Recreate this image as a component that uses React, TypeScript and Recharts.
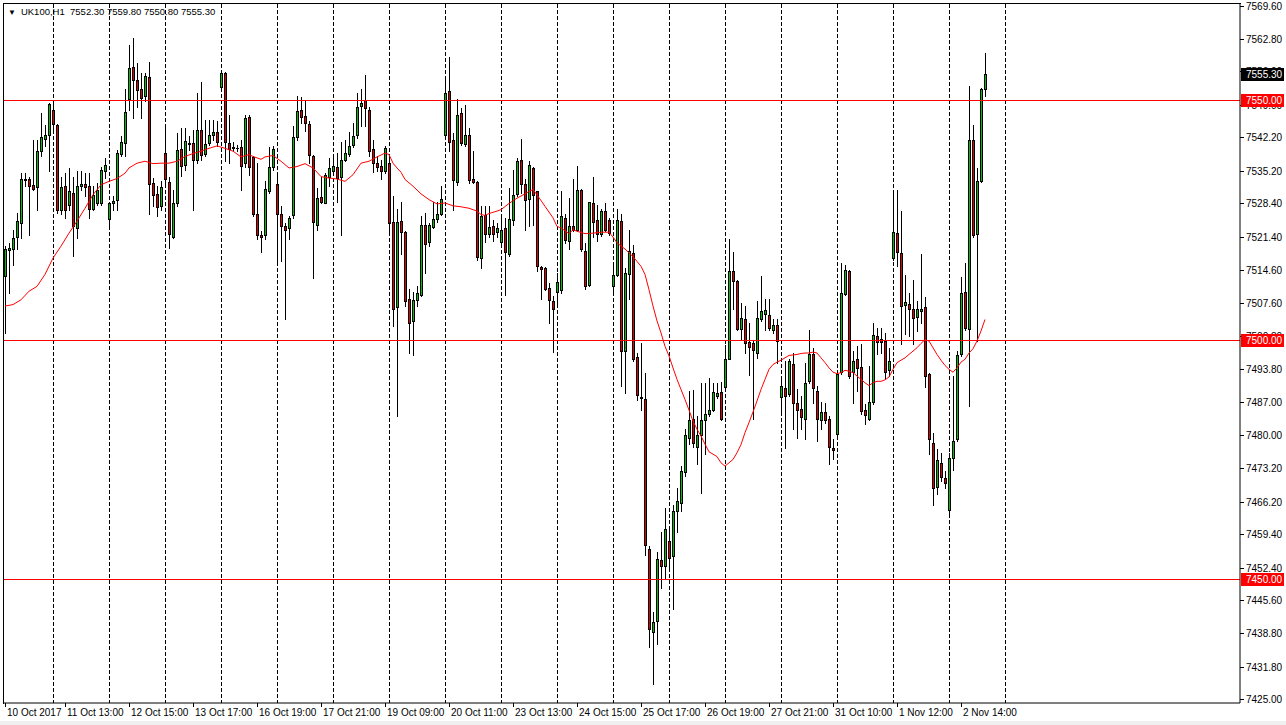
import { ComposedChart, Bar, Line, XAxis, YAxis, CartesianGrid, ReferenceLine } from "recharts";

// UK100 H1 candles (one entry per hourly bar)
const opens = [
  7513.2, 7518.6, 7518.8, 7521.5, 7524.3, 7533.4, 7533.4, 7532.3, 7531.8, 7539.3, 7541.8, 7542.7, 7547.9, 7544.8, 7527.1, 7532.1,
  7528.1, 7530.6, 7523.3, 7532.1, 7532.5, 7532.1, 7527.2, 7528.5, 7528.5, 7535.1, 7525.2, 7528.4, 7529.2, 7538.8, 7541.0, 7550.2,
  7556.8, 7554.2, 7552.2, 7550.9, 7554.7, 7532.7, 7530.4, 7527.8, 7538.9, 7532.9, 7521.4, 7528.4, 7539.7, 7536.5, 7541.0, 7541.0,
  7537.4, 7543.8, 7538.8, 7541.0, 7542.7, 7543.4, 7552.7, 7555.6, 7541.0, 7540.1, 7540.0, 7540.2, 7536.8, 7546.4, 7538.1, 7526.1,
  7521.9, 7521.8, 7530.9, 7536.1, 7532.4, 7526.1, 7523.6, 7523.3, 7525.9, 7542.2, 7547.9, 7546.7, 7545.0, 7538.3, 7524.0, 7529.7,
  7528.5, 7533.9, 7535.1, 7536.1, 7533.9, 7537.5, 7538.8, 7540.6, 7542.7, 7548.8, 7549.9, 7547.8, 7539.7, 7536.8, 7536.3, 7535.1,
  7536.8, 7524.5, 7506.8, 7524.7, 7522.4, 7508.5, 7503.8, 7508.2, 7509.4, 7523.8, 7520.3, 7523.5, 7525.2, 7526.2, 7542.7, 7551.9,
  7541.7, 7532.8, 7547.2, 7540.9, 7542.7, 7533.4, 7532.9, 7517.0, 7525.9, 7522.1, 7523.6, 7522.4, 7520.3, 7523.3, 7517.9, 7525.0,
  7530.4, 7537.5, 7532.5, 7529.3, 7535.8, 7530.9, 7515.2, 7515.0, 7510.8, 7508.0, 7509.9, 7510.3, 7525.4, 7520.5, 7523.6, 7522.9,
  7531.3, 7518.4, 7511.3, 7528.5, 7524.9, 7522.1, 7526.8, 7524.9, 7511.1, 7513.4, 7524.7, 7497.6, 7513.6, 7518.1, 7496.4, 7488.1,
  7487.7, 7456.4, 7439.1, 7441.3, 7454.0, 7452.7, 7458.0, 7454.8, 7464.3, 7466.0, 7472.4, 7479.5, 7483.4, 7477.7, 7480.2, 7483.2,
  7484.4, 7485.4, 7488.2, 7489.1, 7490.2, 7496.0, 7514.3, 7512.2, 7502.2, 7504.3, 7499.5, 7499.3, 7497.2, 7504.3, 7505.4, 7505.2,
  7502.0, 7503.1, 7488.1, 7489.9, 7488.6, 7495.0, 7486.8, 7485.6, 7483.4, 7491.3, 7496.9, 7489.3, 7483.2, 7484.9, 7483.5, 7477.4,
  7480.4, 7493.2, 7509.6, 7514.3, 7493.2, 7495.9, 7494.3, 7485.3, 7483.5, 7487.0, 7500.7, 7500.2, 7499.8, 7493.6, 7517.0, 7522.2,
  7518.1, 7507.2, 7507.5, 7506.4, 7504.7, 7505.9, 7506.8, 7492.9, 7478.5, 7469.3, 7474.3, 7471.2, 7464.5, 7475.4, 7479.2, 7496.9,
  7509.9, 7502.2, 7541.7, 7522.1, 7533.0, 7552.3,
];
const highs = [
  7519.5, 7520.2, 7522.9, 7526.4, 7534.7, 7534.7, 7534.0, 7541.7, 7541.7, 7547.2, 7544.8, 7549.4, 7549.9, 7544.9, 7534.0, 7534.7,
  7535.8, 7534.0, 7535.1, 7535.1, 7534.7, 7534.7, 7532.0, 7532.7, 7536.1, 7537.9, 7528.4, 7530.0, 7539.6, 7542.4, 7552.2, 7561.5,
  7562.9, 7557.7, 7555.6, 7555.6, 7558.0, 7533.7, 7532.0, 7533.0, 7544.8, 7534.0, 7531.3, 7543.1, 7544.1, 7544.1, 7542.4, 7543.8,
  7551.4, 7553.8, 7545.9, 7545.9, 7545.9, 7545.5, 7555.9, 7555.8, 7546.9, 7541.2, 7540.5, 7541.7, 7546.9, 7546.9, 7538.3, 7536.8,
  7522.6, 7533.0, 7540.2, 7540.4, 7534.7, 7527.8, 7524.3, 7525.7, 7544.5, 7550.9, 7550.7, 7550.0, 7545.5, 7538.5, 7531.6, 7534.0,
  7534.7, 7537.9, 7538.2, 7538.9, 7541.3, 7541.7, 7543.4, 7545.2, 7551.4, 7552.2, 7555.2, 7548.6, 7541.7, 7538.2, 7537.5, 7540.4,
  7538.2, 7529.9, 7527.2, 7528.8, 7522.6, 7510.6, 7509.9, 7511.1, 7525.7, 7526.4, 7524.3, 7528.8, 7528.8, 7532.1, 7554.9, 7558.9,
  7543.1, 7550.2, 7548.3, 7549.0, 7544.1, 7539.3, 7533.0, 7527.8, 7527.8, 7527.8, 7524.9, 7524.3, 7525.6, 7525.4, 7531.6, 7535.4,
  7537.9, 7541.8, 7533.4, 7537.2, 7536.1, 7531.0, 7515.4, 7515.1, 7511.8, 7509.0, 7513.8, 7530.9, 7526.1, 7529.5, 7533.4, 7536.3,
  7531.5, 7520.2, 7528.8, 7534.0, 7528.1, 7527.2, 7528.4, 7525.4, 7515.3, 7527.2, 7526.3, 7514.9, 7522.9, 7519.8, 7497.2, 7499.3,
  7493.1, 7457.0, 7443.1, 7455.6, 7459.8, 7464.9, 7460.8, 7465.6, 7469.1, 7473.6, 7481.3, 7489.3, 7489.4, 7484.1, 7491.0, 7490.9,
  7491.9, 7491.0, 7491.0, 7491.1, 7498.8, 7521.0, 7518.2, 7512.4, 7507.7, 7507.0, 7503.5, 7500.0, 7508.0, 7513.2, 7508.4, 7508.4,
  7504.2, 7504.2, 7492.0, 7495.5, 7496.0, 7497.2, 7489.6, 7488.2, 7495.2, 7502.1, 7498.3, 7490.3, 7487.0, 7486.8, 7484.1, 7479.2,
  7493.1, 7516.0, 7515.6, 7514.5, 7497.6, 7498.6, 7499.0, 7486.5, 7494.5, 7503.5, 7502.4, 7502.4, 7501.4, 7498.3, 7531.3, 7531.3,
  7526.9, 7513.4, 7509.7, 7512.4, 7508.0, 7517.9, 7508.9, 7493.0, 7480.6, 7477.1, 7476.4, 7472.6, 7476.4, 7492.4, 7497.6, 7513.1,
  7515.9, 7552.8, 7544.8, 7535.8, 7552.4, 7559.8,
];
const lows = [
  7501.4, 7509.7, 7515.6, 7518.8, 7521.2, 7532.0, 7521.9, 7531.3, 7527.1, 7538.2, 7540.3, 7535.1, 7543.1, 7526.4, 7526.1, 7525.4,
  7527.1, 7517.4, 7521.2, 7531.3, 7529.9, 7525.4, 7527.1, 7528.1, 7528.1, 7533.7, 7523.6, 7527.1, 7527.1, 7538.2, 7538.2, 7547.9,
  7546.2, 7548.6, 7546.2, 7549.7, 7526.1, 7527.8, 7525.7, 7527.1, 7532.7, 7519.1, 7521.2, 7527.8, 7534.2, 7535.4, 7539.6, 7527.1,
  7536.8, 7537.5, 7538.2, 7540.6, 7541.7, 7540.3, 7552.4, 7537.2, 7536.8, 7539.3, 7539.4, 7531.3, 7536.1, 7534.4, 7525.7, 7520.9,
  7518.2, 7520.9, 7530.6, 7535.4, 7516.3, 7516.3, 7504.2, 7520.9, 7525.4, 7541.7, 7545.2, 7543.6, 7536.8, 7512.9, 7522.8, 7528.4,
  7528.4, 7532.0, 7534.4, 7528.8, 7521.9, 7537.2, 7538.2, 7540.2, 7542.0, 7544.5, 7544.5, 7538.2, 7534.9, 7535.1, 7533.4, 7534.7,
  7521.9, 7502.8, 7484.0, 7517.9, 7507.1, 7497.2, 7496.7, 7507.0, 7509.0, 7513.9, 7519.5, 7523.3, 7524.5, 7525.9, 7542.2, 7539.3,
  7527.1, 7532.3, 7540.6, 7540.3, 7532.7, 7532.7, 7516.7, 7515.0, 7520.3, 7521.5, 7520.5, 7521.5, 7519.8, 7509.4, 7517.4, 7524.0,
  7529.9, 7530.6, 7522.9, 7523.6, 7524.0, 7514.3, 7508.4, 7510.4, 7503.5, 7497.4, 7507.7, 7509.7, 7520.2, 7518.8, 7522.6, 7522.6,
  7518.4, 7510.6, 7511.1, 7521.5, 7520.5, 7521.7, 7522.6, 7521.9, 7509.4, 7513.2, 7490.3, 7488.9, 7508.4, 7495.5, 7487.5, 7485.4,
  7455.0, 7435.8, 7428.2, 7436.5, 7448.1, 7450.0, 7452.1, 7443.8, 7459.8, 7464.3, 7471.6, 7478.2, 7477.5, 7474.0, 7467.9, 7476.1,
  7484.1, 7485.1, 7487.9, 7483.2, 7489.6, 7495.9, 7506.3, 7502.0, 7500.0, 7497.2, 7492.7, 7483.4, 7496.2, 7503.8, 7502.1, 7502.1,
  7501.4, 7495.2, 7485.1, 7477.4, 7488.2, 7481.3, 7479.5, 7481.3, 7479.2, 7491.0, 7486.8, 7478.8, 7481.3, 7482.6, 7474.0, 7475.0,
  7480.2, 7492.9, 7509.4, 7492.0, 7486.8, 7489.3, 7484.4, 7482.3, 7483.2, 7486.5, 7496.9, 7497.2, 7491.7, 7492.4, 7516.7, 7515.3,
  7499.0, 7501.1, 7500.7, 7499.0, 7501.8, 7503.5, 7490.2, 7476.1, 7465.4, 7467.7, 7470.5, 7469.1, 7463.2, 7472.9, 7478.8, 7496.5,
  7502.1, 7486.1, 7521.5, 7499.7, 7532.8, 7550.8,
];
const closes = [
  7518.8, 7519.1, 7521.2, 7524.7, 7533.4, 7533.2, 7532.0, 7531.4, 7539.3, 7542.2, 7542.7, 7549.2, 7544.9, 7527.1, 7531.8, 7527.1,
  7530.9, 7523.6, 7532.1, 7532.5, 7531.8, 7527.2, 7530.2, 7531.1, 7535.4, 7536.5, 7528.4, 7529.0, 7538.9, 7541.2, 7547.4, 7556.6,
  7554.2, 7552.1, 7550.4, 7554.9, 7532.5, 7530.1, 7527.7, 7531.8, 7533.5, 7522.1, 7528.4, 7539.6, 7536.3, 7541.5, 7540.9, 7537.4,
  7543.8, 7538.6, 7540.8, 7542.7, 7543.3, 7541.3, 7555.6, 7541.3, 7539.8, 7540.0, 7539.9, 7536.3, 7546.2, 7536.0, 7526.1, 7521.8,
  7521.3, 7531.4, 7536.0, 7539.7, 7526.1, 7523.6, 7522.8, 7525.4, 7542.2, 7547.7, 7546.4, 7545.2, 7538.4, 7524.5, 7529.5, 7528.6,
  7534.4, 7535.8, 7536.3, 7533.7, 7537.4, 7538.9, 7540.4, 7542.5, 7548.6, 7549.3, 7548.3, 7539.3, 7536.9, 7536.1, 7535.1, 7539.9,
  7524.3, 7506.4, 7524.5, 7522.4, 7508.0, 7503.5, 7508.2, 7509.7, 7523.8, 7520.0, 7523.8, 7525.2, 7526.2, 7529.3, 7551.4, 7541.3,
  7533.2, 7546.9, 7541.1, 7542.7, 7533.2, 7532.8, 7517.3, 7525.7, 7522.1, 7523.5, 7522.1, 7523.3, 7522.9, 7518.2, 7525.2, 7530.2,
  7537.3, 7532.5, 7529.2, 7536.5, 7530.2, 7515.3, 7514.7, 7510.6, 7508.2, 7506.4, 7512.0, 7525.7, 7520.7, 7523.6, 7522.8, 7531.3,
  7518.8, 7511.1, 7528.6, 7524.5, 7522.1, 7526.9, 7522.8, 7522.2, 7513.4, 7524.9, 7497.6, 7513.8, 7518.4, 7495.9, 7488.4, 7487.9,
  7457.1, 7439.6, 7441.1, 7454.2, 7452.8, 7460.4, 7454.5, 7464.3, 7466.4, 7472.6, 7480.0, 7483.2, 7478.5, 7480.2, 7483.2, 7484.4,
  7485.3, 7489.1, 7488.9, 7483.5, 7496.0, 7514.3, 7512.2, 7502.2, 7504.5, 7499.2, 7498.5, 7497.8, 7504.5, 7505.9, 7506.1, 7502.4,
  7503.1, 7499.7, 7490.3, 7488.2, 7495.5, 7486.7, 7485.3, 7483.9, 7491.0, 7496.9, 7489.9, 7483.4, 7484.9, 7483.2, 7477.7, 7477.0,
  7492.9, 7509.7, 7514.6, 7492.4, 7495.5, 7494.1, 7485.1, 7484.3, 7487.0, 7500.9, 7499.5, 7499.5, 7493.2, 7495.5, 7522.4, 7518.3,
  7507.0, 7507.8, 7506.4, 7504.5, 7506.4, 7506.4, 7492.5, 7479.2, 7469.1, 7474.9, 7471.4, 7470.0, 7475.2, 7478.8, 7496.7, 7509.7,
  7502.4, 7541.7, 7521.9, 7533.0, 7552.2, 7555.3,
];

// moving average read at [bar, value] points
const maPoints: [number, number][] = [
  [0, 7507.0], [2, 7507.3], [4, 7508.3], [6, 7510.1], [8, 7511.1], [10, 7513.6], [12, 7517.0], [14, 7519.5], [16, 7522.2],
  [18, 7524.7], [20, 7527.4], [22, 7530.2], [24, 7532.3], [26, 7533.0], [28, 7533.6], [30, 7534.7], [31, 7535.8], [33, 7536.8],
  [35, 7537.2], [37, 7536.7], [39, 7536.8], [41, 7536.8], [43, 7537.2], [45, 7538.2], [47, 7538.8], [49, 7539.3], [51, 7539.9],
  [53, 7540.4], [55, 7539.9], [57, 7539.3], [59, 7538.1], [61, 7538.6], [62, 7538.2], [63, 7537.9], [64, 7537.6], [65, 7538.1],
  [67, 7538.4], [69, 7537.2], [71, 7535.8], [73, 7536.1], [75, 7536.7], [77, 7535.8], [79, 7534.0], [81, 7533.7], [83, 7533.5],
  [85, 7533.0], [87, 7534.4], [89, 7536.8], [91, 7537.2], [93, 7538.1], [95, 7538.9], [96, 7538.6], [97, 7536.8], [98, 7535.8],
  [99, 7534.9], [100, 7533.4], [102, 7532.0], [104, 7530.4], [106, 7529.2], [108, 7528.3], [110, 7528.5], [112, 7527.9],
  [114, 7527.7], [116, 7527.4], [118, 7526.8], [119, 7526.1], [120, 7525.9], [121, 7526.3], [123, 7526.8], [124, 7527.1],
  [126, 7528.4], [128, 7529.5], [130, 7530.4], [131, 7530.9], [132, 7531.3], [133, 7530.2], [135, 7527.8], [137, 7525.4],
  [138, 7523.6], [139, 7523.3], [141, 7522.1], [142, 7522.9], [143, 7522.6], [145, 7522.1], [147, 7522.2], [149, 7522.4],
  [151, 7522.4], [152, 7521.4], [153, 7520.2], [154, 7519.5], [155, 7518.9], [156, 7518.1], [157, 7517.3], [158, 7516.3],
  [159, 7515.3], [160, 7513.6], [161, 7510.4], [162, 7507.0], [163, 7503.9], [164, 7501.4], [165, 7498.6], [166, 7496.6],
  [167, 7494.1], [168, 7491.7], [169, 7489.6], [170, 7487.5], [171, 7485.3], [172, 7483.0], [173, 7481.3], [174, 7479.9],
  [175, 7478.2], [176, 7476.6], [177, 7476.1], [178, 7475.6], [179, 7474.3], [180, 7473.6], [181, 7474.3], [182, 7475.0],
  [183, 7476.4], [184, 7478.1], [185, 7480.6], [186, 7482.7], [187, 7484.9], [188, 7487.2], [189, 7489.6], [190, 7491.7],
  [191, 7493.8], [192, 7494.8], [193, 7495.3], [194, 7495.7], [195, 7496.2], [196, 7496.7], [197, 7496.8], [198, 7496.9],
  [199, 7497.1], [200, 7497.2], [201, 7497.2], [202, 7497.4], [203, 7497.2], [204, 7496.2], [205, 7495.2], [206, 7494.1],
  [207, 7493.2], [208, 7492.9], [209, 7493.1], [210, 7493.6], [211, 7493.4], [212, 7493.1], [213, 7492.4], [214, 7491.7],
  [215, 7491.0], [216, 7490.4], [217, 7491.0], [218, 7491.3], [219, 7491.3], [220, 7491.6], [221, 7492.2], [222, 7493.8],
  [223, 7495.2], [224, 7495.7], [225, 7496.2], [226, 7496.9], [227, 7497.6], [228, 7498.3], [229, 7499.2], [230, 7500.0],
  [231, 7499.7], [232, 7498.3], [233, 7496.9], [234, 7495.7], [235, 7494.6], [236, 7493.8], [237, 7493.2], [238, 7494.1],
  [239, 7495.3], [240, 7495.9], [241, 7497.2], [242, 7498.1], [243, 7499.7], [244, 7501.8], [245, 7504.2],
];

const timeTicks = [0, 15, 31, 47, 63, 79, 95, 111, 127, 143, 159, 175, 191, 207, 223, 239];
const timeLabels = [
  "10 Oct 2017", "11 Oct 13:00", "12 Oct 15:00", "13 Oct 17:00", "16 Oct 19:00", "17 Oct 21:00", "19 Oct 09:00", "20 Oct 11:00",
  "23 Oct 13:00", "24 Oct 15:00", "25 Oct 17:00", "26 Oct 19:00", "27 Oct 21:00", "31 Oct 10:00", "1 Nov 12:00", "2 Nov 14:00",
];
// day separators (bar index of each session start)
const sessionBars = [12, 26, 40, 54, 68, 82, 96, 110, 124, 138, 152, 166, 180, 194, 208, 222, 236, 250];
const priceTicks = [
  7569.6, 7562.8, 7556.0, 7549.0, 7542.2, 7535.2, 7528.4, 7521.4, 7514.6, 7507.6, 7500.8, 7493.8, 7487.0, 7480.0, 7473.2,
  7466.2, 7459.4, 7452.4, 7445.6, 7438.8, 7431.8, 7425.0,
];
const levels = [7550, 7500, 7450];
const symbol = "UK100,H1";

const last = opens.length - 1;
const lastPrice = closes[last];
const maByBar = new Map(maPoints);
const bars = opens.map((o, i) => ({
  i,
  open: o,
  high: highs[i],
  low: lows[i],
  close: closes[i],
  range: [lows[i], highs[i]],
  ma: maByBar.has(i) ? maByBar.get(i) : null,
}));

const UP = "#00c000";
const DOWN = "#e00000";
const LEVEL = "#ff0000";
const FONT = "'Liberation Sans', Arial, sans-serif";
const RIGHT_PAD = 253;

const Candle = (props: any) => {
  const { x, y, width, height, payload } = props;
  if (x == null || payload == null) return null;
  const top = Math.min(y, y + height);
  const bot = Math.max(y, y + height);
  const { open, close, high, low } = payload;
  const span = high - low;
  const toY = (p: number) => (span > 0 ? top + ((high - p) / span) * (bot - top) : top);
  const cx = Math.round(x + width / 2) + 0.5;
  const bTop = Math.round(toY(Math.max(open, close))) + 0.5;
  const bBot = Math.round(toY(Math.min(open, close))) + 0.5;
  return (
    <g shapeRendering="crispEdges">
      <line x1={cx} x2={cx} y1={Math.round(top)} y2={Math.round(bot) + 1} stroke="#000" />
      {bBot - bTop < 1 ? (
        <line x1={cx - 1.5} x2={cx + 1.5} y1={bTop} y2={bTop} stroke="#000" />
      ) : (
        <rect x={cx - 1} y={bTop} width={2} height={bBot - bTop} fill={close >= open ? UP : DOWN} stroke="#000" />
      )}
    </g>
  );
};

const LevelLine = (props: any) => {
  const { x1, x2, y1 } = props;
  if (x1 == null || y1 == null) return null;
  const yy = Math.round(y1) + 0.5;
  return <line x1={x1} x2={x2} y1={yy} y2={yy} stroke={LEVEL} strokeWidth={1} shapeRendering="crispEdges" />;
};

const TimeTick = (props: any) => {
  const { x, y, payload } = props;
  const k = timeTicks.indexOf(payload.value);
  const tx = Math.round(x) + 0.5;
  return (
    <g>
      <line x1={tx} x2={tx} y1={y - 4} y2={y} stroke="#000" shapeRendering="crispEdges" />
      <text x={tx + 1.5} y={y + 9} fontSize={10} fontFamily={FONT} fill="#000" textAnchor="start">
        {k >= 0 ? timeLabels[k] : ""}
      </text>
    </g>
  );
};

const PriceTick = (props: any) => {
  const { x, y, payload } = props;
  const v = payload.value;
  const yy = Math.round(y);
  const label = v.toFixed(2);
  const tag = v === lastPrice ? "#000" : levels.includes(v) ? LEVEL : null;
  if (tag) {
    return (
      <g>
        <rect x={x - 5} y={yy - 6} width={43} height={13} fill={tag} />
        <text x={x} y={yy + 4} fontSize={10} fontFamily={FONT} fill="#fff">{label}</text>
      </g>
    );
  }
  return (
    <g>
      <line x1={x - 6} x2={x - 2} y1={yy + 0.5} y2={yy + 0.5} stroke="#000" shapeRendering="crispEdges" />
      <text x={x} y={yy + 4} fontSize={10} fontFamily={FONT} fill="#000">{label}</text>
    </g>
  );
};

// dashed session separators, placed on the bar bands of the x scale
const sessionLines = ({ xAxis, offset }: any) => {
  const s = xAxis?.scale;
  let x0 = offset.left;
  let bw = (offset.width - RIGHT_PAD) / bars.length;
  if (typeof s === "function") {
    const v = s(0);
    if (typeof v === "number" && !Number.isNaN(v)) x0 = v;
    if (typeof s.bandwidth === "function") bw = s.bandwidth();
  }
  return sessionBars.map((b) => Math.round(x0 + (b + 0.5) * bw) + 0.5);
};

export default function App() {
  const allTicks = [...priceTicks, ...levels, lastPrice];
  return (
    <div style={{ position: "absolute", left: 0, top: 0, width: 1286, height: 725, background: "#fff", overflow: "hidden" }}>
      <ComposedChart width={1286} height={721} data={bars} margin={{ top: 4, right: 0, bottom: 0, left: 3 }}>
        <CartesianGrid
          horizontal={false}
          stroke="#000"
          strokeDasharray="4 2"
          shapeRendering="crispEdges"
          verticalCoordinatesGenerator={sessionLines}
        />
        <XAxis
          dataKey="i"
          type="category"
          height={18}
          padding={{ left: 0, right: RIGHT_PAD }}
          ticks={timeTicks}
          interval={0}
          tickSize={4}
          tickMargin={0}
          tickLine={false}
          tick={<TimeTick />}
          axisLine={{ stroke: "#000" }}
        />
        <YAxis
          orientation="right"
          type="number"
          width={46}
          domain={[7424.2, 7570.0]}
          allowDataOverflow
          ticks={allTicks}
          interval={0}
          tickSize={4}
          tickMargin={2}
          tickLine={false}
          tick={<PriceTick />}
          axisLine={{ stroke: "#000" }}
        />
        <Bar dataKey="range" shape={<Candle />} isAnimationActive={false} />
        {levels.map((lv) => (
          <ReferenceLine key={lv} y={lv} stroke={LEVEL} shape={<LevelLine />} />
        ))}
        <Line
          dataKey="ma"
          type="linear"
          stroke={LEVEL}
          strokeWidth={1}
          dot={false}
          connectNulls
          isAnimationActive={false}
        />
      </ComposedChart>
      <div
        style={{
          position: "absolute",
          left: 3,
          top: 3,
          width: 1238,
          height: 701,
          boxSizing: "border-box",
          borderLeft: "1px solid #000",
          borderTop: "1px solid #000",
          pointerEvents: "none",
        }}
      />
      <div
        style={{
          position: "absolute",
          left: 8,
          top: 5,
          fontFamily: FONT,
          fontSize: 9.5,
          color: "#000",
          whiteSpace: "pre",
          lineHeight: "13px",
        }}
      >
        <span style={{ fontSize: 8, marginRight: 5 }}>▼</span>
        {`${symbol}  ${opens[last].toFixed(2)} ${highs[last].toFixed(2)} ${lows[last].toFixed(2)} ${closes[last].toFixed(2)}`}
      </div>
      <div style={{ position: "absolute", left: 0, top: 721, width: 1286, height: 4, background: "#f0f0f0" }} />
    </div>
  );
}
